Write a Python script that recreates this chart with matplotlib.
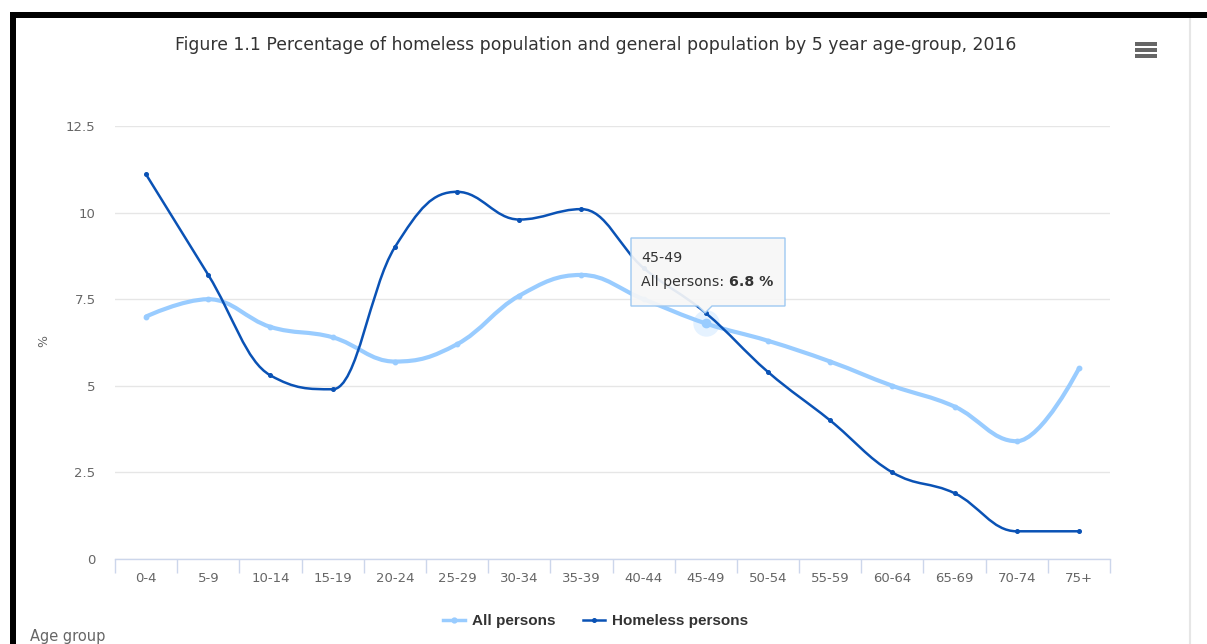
import matplotlib
matplotlib.use("Agg")
import matplotlib.pyplot as plt
from matplotlib.path import Path
from matplotlib.patches import PathPatch, Polygon, Rectangle
from matplotlib.lines import Line2D

categories = ["0-4", "5-9", "10-14", "15-19", "20-24", "25-29", "30-34", "35-39",
              "40-44", "45-49", "50-54", "55-59", "60-64", "65-69", "70-74", "75+"]
all_persons = [7.0, 7.5, 6.7, 6.4, 5.7, 6.2, 7.6, 8.2, 7.5, 6.8, 6.3, 5.7, 5.0, 4.4, 3.4, 5.5]
homeless = [11.1, 8.2, 5.3, 4.9, 9.0, 10.6, 9.8, 10.1, 8.4, 7.1, 5.4, 4.0, 2.5, 1.9, 0.8, 0.8]
y_ticks = [0, 2.5, 5, 7.5, 10, 12.5]
y_tick_labels = ["0", "2.5", "5", "7.5", "10", "12.5"]
title = "Figure 1.1 Percentage of homeless population and general population by 5 year age-group, 2016"
series_names = ["All persons", "Homeless persons"]
tooltip_index = 9

C_ALL = "#99ccff"
C_HOM = "#0a52b5"

W, H = 1207, 644
fig = plt.figure(figsize=(W / 100, H / 100), dpi=100)
fig.patch.set_facecolor("white")


def fx(px):
    return px / W


def fy(py):
    return 1 - py / H


ax = fig.add_axes([fx(115), fy(559), (1110 - 115) / W, (559 - 126) / H])
ax.set_facecolor("white")


def spline_path(xs, ys, smoothing=1.5):
    n = len(xs)
    lc = [None] * n
    rc = [None] * n
    for i in range(1, n - 1):
        lx, ly = xs[i - 1], ys[i - 1]
        nx, ny = xs[i + 1], ys[i + 1]
        px, py = xs[i], ys[i]
        lcx = (smoothing * px + lx) / (smoothing + 1)
        lcy = (smoothing * py + ly) / (smoothing + 1)
        rcx = (smoothing * px + nx) / (smoothing + 1)
        rcy = (smoothing * py + ny) / (smoothing + 1)
        corr = ((rcy - lcy) * (rcx - px)) / (rcx - lcx) + py - rcy
        lcy += corr
        rcy += corr
        if lcy > ly and lcy > py:
            lcy = max(ly, py)
            rcy = 2 * py - lcy
        elif lcy < ly and lcy < py:
            lcy = min(ly, py)
            rcy = 2 * py - lcy
        if rcy > ny and rcy > py:
            rcy = max(ny, py)
            lcy = 2 * py - rcy
        elif rcy < ny and rcy < py:
            rcy = min(ny, py)
            lcy = 2 * py - rcy
        lc[i] = (lcx, lcy)
        rc[i] = (rcx, rcy)
    verts = [(xs[0], ys[0])]
    codes = [Path.MOVETO]
    for i in range(1, n):
        c1 = rc[i - 1] if rc[i - 1] is not None else (xs[i - 1], ys[i - 1])
        c2 = lc[i] if lc[i] is not None else (xs[i], ys[i])
        verts += [c1, c2, (xs[i], ys[i])]
        codes += [Path.CURVE4] * 3
    return Path(verts, codes)


xs = list(range(len(categories)))

ax.add_patch(PathPatch(spline_path(xs, all_persons), facecolor="none", edgecolor=C_ALL,
                       lw=3.0, capstyle="round", joinstyle="round", zorder=3))
ax.plot(xs, all_persons, ls="none", marker="o", ms=3.2, color=C_ALL, zorder=3.1)
ax.add_patch(PathPatch(spline_path(xs, homeless), facecolor="none", edgecolor=C_HOM,
                       lw=1.8, capstyle="round", joinstyle="round", zorder=4))
ax.plot(xs, homeless, ls="none", marker="o", ms=2.6, color=C_HOM, zorder=4.1)

# hover highlight
ax.plot([tooltip_index], [all_persons[tooltip_index]], ls="none", marker="o", ms=19,
        color=C_ALL, alpha=0.25, mec="none", zorder=2.9)
ax.plot([tooltip_index], [all_persons[tooltip_index]], ls="none", marker="o", ms=6,
        color=C_ALL, zorder=3.2)

ax.set_xlim(-0.5, len(categories) - 0.5)
ax.set_ylim(0, 12.5)
ax.set_yticks(y_ticks)
ax.set_yticklabels(y_tick_labels)
ax.set_xticks(xs)
ax.set_xticklabels(categories)
ax.set_xticks([i - 0.5 for i in range(len(categories) + 1)], minor=True)
ax.tick_params(axis="x", which="major", length=0, pad=9, labelsize=9.5, labelcolor="#666666")
ax.tick_params(axis="x", which="minor", length=10, width=1, color="#ccd6eb", direction="out")
ax.tick_params(axis="y", length=0, pad=14, labelsize=9.5, labelcolor="#666666")
for lab in ax.get_yticklabels():
    lab.set_horizontalalignment("right")
ax.grid(axis="y", color="#e6e6e6", lw=1)
ax.set_axisbelow(True)
for s in ["top", "right", "left"]:
    ax.spines[s].set_visible(False)
ax.spines["bottom"].set_color("#ccd6eb")
ax.spines["bottom"].set_linewidth(1)

fig.text(fx(44), fy(341), "%", rotation=90, ha="center", va="center", fontsize=9, color="#666666")

fig.text(fx(596), fy(45), title, ha="center", va="center", fontsize=12.4, color="#333333")

fig.text(fx(30), fy(636), "Age group", ha="left", va="center", fontsize=10.5, color="#666666")

handles = [Line2D([0], [0], color=C_ALL, lw=2.5, marker="o", ms=3.5),
           Line2D([0], [0], color=C_HOM, lw=1.8, marker="o", ms=2.6)]
leg = fig.legend(handles, series_names, loc="center", bbox_to_anchor=(fx(596), fy(621)),
                 ncol=2, frameon=False, handlelength=1.4, handletextpad=0.5, columnspacing=1.8,
                 prop={"family": "Liberation Sans", "weight": "bold", "size": 11})
for t in leg.get_texts():
    t.set_color("#333333")

# tooltip
tip = [(631, 238), (785, 238), (785, 306), (712, 306), (705, 313), (698, 306), (631, 306)]
fig.add_artist(Polygon([(fx(a), fy(b)) for a, b in tip], closed=True, transform=fig.transFigure,
                       facecolor=(0.97, 0.97, 0.97, 0.92), edgecolor="#9ec9f2", lw=1.0, zorder=5))
fig.text(fx(641), fy(258), categories[tooltip_index], ha="left", va="center", fontsize=10.2,
         color="#333333", zorder=6)
t1 = fig.text(fx(641), fy(282), series_names[0] + ": ", ha="left", va="center", fontsize=10.2,
              color="#333333", zorder=6)
fig.canvas.draw()
bb = t1.get_window_extent()
fig.text(bb.x1 / W, fy(282), f"{all_persons[tooltip_index]} %", ha="left", va="center",
         fontsize=10.2, fontweight="bold", color="#333333", zorder=6)

# menu icon
for yy in (46, 52, 58):
    fig.add_artist(Rectangle((fx(1135), fy(yy)), 22 / W, 3.5 / H, transform=fig.transFigure,
                             facecolor="#666666", edgecolor="none", zorder=6))

# frame
fig.add_artist(Rectangle((fx(10), fy(18)), (W - 10) / W, 6 / H, transform=fig.transFigure,
                         facecolor="black", edgecolor="none", zorder=7))
fig.add_artist(Rectangle((fx(10), 0), 6 / W, fy(12), transform=fig.transFigure,
                         facecolor="black", edgecolor="none", zorder=7))
fig.add_artist(Line2D([fx(1190), fx(1190)], [0, fy(18)], transform=fig.transFigure,
                      color="#e6e6e6", lw=1.5, zorder=6))

fig.savefig("out.png", dpi=100, facecolor="white")
